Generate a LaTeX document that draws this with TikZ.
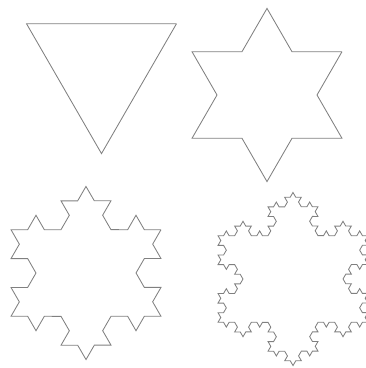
\documentclass[tikz,border=0pt]{standalone}
\usetikzlibrary{calc,decorations.fractals}
\tikzset{
  koch/.style={draw=black!50,line width=0.85pt,line join=miter,decoration=Koch snowflake},
}
\newcommand{\kr}{86.6}
\begin{document}
\begin{tikzpicture}[x=1pt,y=1pt]
\useasboundingbox (0,0) rectangle (366,368);

% centres of the four stages
\coordinate (c0) at (101.5,301);
\coordinate (c1) at (267,273);
\coordinate (c2) at (86,95);
\coordinate (c3) at (293,89);

% stage 0: the triangle
\draw[koch] ($(c0)+(30:\kr)$) -- ($(c0)+(270:\kr)$) -- ($(c0)+(150:\kr)$) -- ($(c0)+(30:\kr)$);

% stage 1: the star
\draw[koch] decorate{($(c1)+(30:\kr)$) -- ($(c1)+(270:\kr)$) -- ($(c1)+(150:\kr)$) -- ($(c1)+(30:\kr)$)};

% stage 2
\draw[koch] decorate{decorate{($(c2)+(30:\kr)$) -- ($(c2)+(270:\kr)$) -- ($(c2)+(150:\kr)$) -- ($(c2)+(30:\kr)$)}};

% stage 3
\draw[koch] decorate{decorate{decorate{($(c3)+(30:\kr)$) -- ($(c3)+(270:\kr)$) -- ($(c3)+(150:\kr)$) -- ($(c3)+(30:\kr)$)}}};

\end{tikzpicture}
\end{document}
